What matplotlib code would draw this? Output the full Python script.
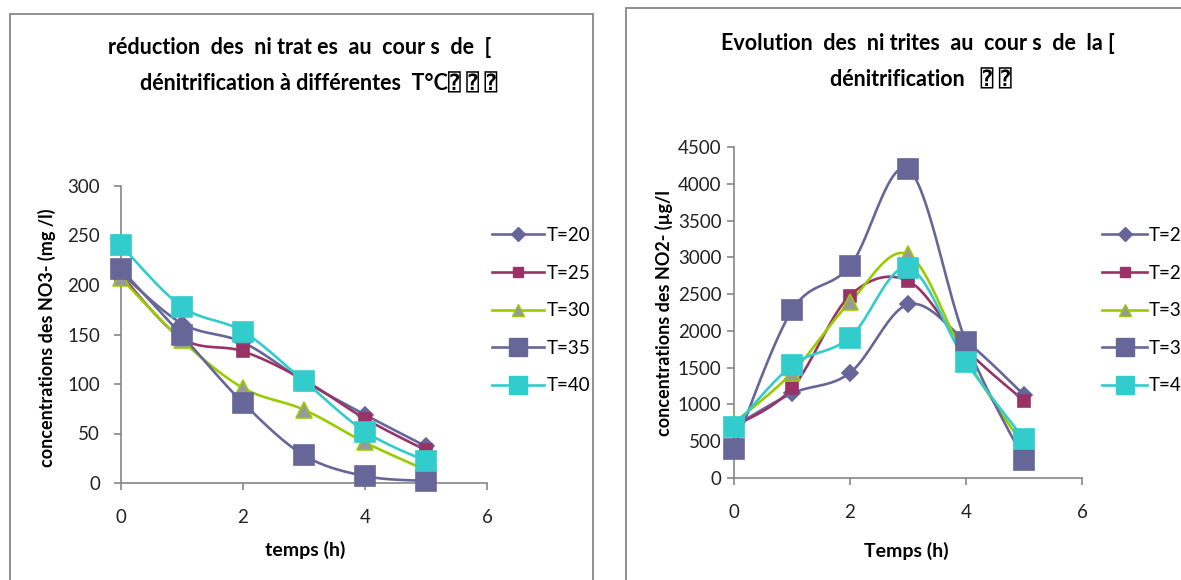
import numpy as np
import matplotlib
matplotlib.use("Agg")
import matplotlib.pyplot as plt
from matplotlib.lines import Line2D
from matplotlib.patches import Rectangle

plt.rcParams['font.family'] = ['Lato', 'DejaVu Sans', 'DejaVu Sans Mono']

# ---- data ----
hours = [0, 1, 2, 3, 4, 5]
series_labels = ["T=20", "T=25", "T=30", "T=35", "T=40"]

no3_t20 = [212, 161, 142, 103, 69, 37]
no3_t25 = [210, 146, 133, 104, 65, 33]
no3_t30 = [207, 144, 96, 74, 41, 13]
no3_t35 = [216, 149, 81, 28, 7, 2]
no3_t40 = [240, 178, 153, 103, 52, 22]

no2_t20 = [700, 1150, 1430, 2360, 1860, 1130]
no2_t25 = [700, 1220, 2480, 2680, 1750, 1050]
no2_t30 = [750, 1430, 2390, 3040, 1620, 430]
no2_t35 = [400, 2280, 2880, 4200, 1850, 250]
no2_t40 = [690, 1530, 1910, 2860, 1580, 530]

no3_series = [no3_t20, no3_t25, no3_t30, no3_t35, no3_t40]
no2_series = [no2_t20, no2_t25, no2_t30, no2_t35, no2_t40]

# ---- styles ----
styles = [
    dict(color="#666699", marker="D", ms=8, mfc="#666699", mec="#666699"),
    dict(color="#993366", marker="s", ms=9, mfc="#993366", mec="#993366"),
    dict(color="#99CC00", marker="^", ms=11, mfc="#999999", mec="#99CC00"),
    dict(color="#666699", marker="s", ms=15, mfc="#666699", mec="#666699"),
    dict(color="#33CCCC", marker="s", ms=15, mfc="#33CCCC", mec="#33CCCC"),
]
LW = 1.9
GRAY = "#868686"
W, H = 1181, 580

fig = plt.figure(figsize=(W / 100, H / 100), dpi=100)


def fx(px):
    return px / W


def fy(py):
    return 1 - py / H


def smooth(ax, x, y, n=24):
    """Bezier smoothing through points computed in display space."""
    pts = ax.transData.transform(np.column_stack([x, y]))
    out = []
    m = len(pts)
    t = np.linspace(0, 1, n)[:, None]
    for i in range(m - 1):
        p0 = pts[max(i - 1, 0)]
        p1 = pts[i]
        p2 = pts[i + 1]
        p3 = pts[min(i + 2, m - 1)]
        c1 = p1 + (p2 - p0) / 6
        c2 = p2 - (p3 - p1) / 6
        seg = ((1 - t) ** 3) * p1 + 3 * ((1 - t) ** 2) * t * c1 + 3 * (1 - t) * t ** 2 * c2 + t ** 3 * p2
        out.append(seg if i == 0 else seg[1:])
    xy = ax.transData.inverted().transform(np.vstack(out))
    return xy[:, 0], xy[:, 1]


def style_axes(ax, ymax, ystep, ypad):
    ax.set_xlim(0, 6)
    ax.set_ylim(0, ymax)
    ax.set_xticks([0, 2, 4, 6])
    ax.set_yticks(np.arange(0, ymax + 1, ystep))
    for s in ("top", "right"):
        ax.spines[s].set_visible(False)
    for s in ("left", "bottom"):
        ax.spines[s].set_color(GRAY)
        ax.spines[s].set_linewidth(1.2)
    ax.tick_params(axis="x", direction="out", length=5, width=1.2, color=GRAY,
                   labelsize=13.5, pad=14, labelcolor="#222222")
    ax.tick_params(axis="y", direction="out", length=5, width=1.2, color=GRAY,
                   labelsize=13.5, pad=ypad, labelcolor="#222222")
    ax.patch.set_visible(False)


def draw_series(ax, data):
    for vals, st in zip(data, styles):
        sx, sy = smooth(ax, hours, vals)
        ax.plot(sx, sy, color=st["color"], lw=LW, zorder=2, clip_on=False)
        ax.plot(hours, vals, ls="none", marker=st["marker"], ms=st["ms"],
                mfc=st["mfc"], mec=st["mec"], mew=1.2, zorder=3, clip_on=False)


def add_legend(x0, y0, hlen, tpad):
    handles = [Line2D([0], [0], color=st["color"], lw=LW, marker=st["marker"],
                      ms=st["ms"] * 0.85, mfc=st["mfc"], mec=st["mec"])
               for st in styles]
    fig.legend(handles, series_labels, loc="upper left",
               bbox_to_anchor=(fx(x0), fy(y0)), frameon=False,
               fontsize=13.5, handlelength=hlen, handletextpad=tpad,
               labelspacing=1.1, borderpad=0, borderaxespad=0)


TITLE_KW = dict(ha="center", va="center", fontsize=15.5, fontweight="bold")
LABEL_KW = dict(ha="center", va="center", fontweight="bold")

# chart frames
fig.patches.append(Rectangle((fx(10), fy(600)), fx(583), fy(14) - fy(600),
                             transform=fig.transFigure, fill=False,
                             ec=GRAY, lw=1.3))
fig.patches.append(Rectangle((fx(626), fy(600)), fx(600), fy(8) - fy(600),
                             transform=fig.transFigure, fill=False,
                             ec=GRAY, lw=1.3))

# ---- left chart: nitrates ----
ax1 = fig.add_axes([fx(121), fy(483), fx(487 - 121), fy(186) - fy(483)])
style_axes(ax1, 300, 50, 10)
draw_series(ax1, no3_series)
fig.text(fx(300), fy(48), "réduction  des  ni trat es  au  cour s  de  [", **TITLE_KW)
fig.text(fx(319), fy(84), "dénitrification à différentes  T°C⍰ ⍰ ⍰", **TITLE_KW)
fig.text(fx(305), fy(550), "temps (h)", fontsize=14, **LABEL_KW)
fig.text(fx(47), fy(338), "concentrations des NO3- (mg /l)", rotation=90,
         fontsize=13, **LABEL_KW)
add_legend(492, 227, 2.75, 0.15)

# ---- right chart: nitrites ----
ax2 = fig.add_axes([fx(734), fy(478), fx(1082 - 734), fy(147) - fy(478)])
style_axes(ax2, 4500, 500, 4)
draw_series(ax2, no2_series)
fig.text(fx(918), fy(44), "Evolution  des  ni trites  au  cour s  de  la [", **TITLE_KW)
fig.text(fx(921), fy(80), "dénitrification   ⍰ ⍰", **TITLE_KW)
fig.text(fx(906), fy(551), "Temps (h)", fontsize=14, **LABEL_KW)
fig.text(fx(664), fy(313), "concentrations des NO2- (µg/l", rotation=90,
         fontsize=13, **LABEL_KW)
add_legend(1102, 227, 2.4, 0.1)

fig.savefig("out.png", dpi=100)
